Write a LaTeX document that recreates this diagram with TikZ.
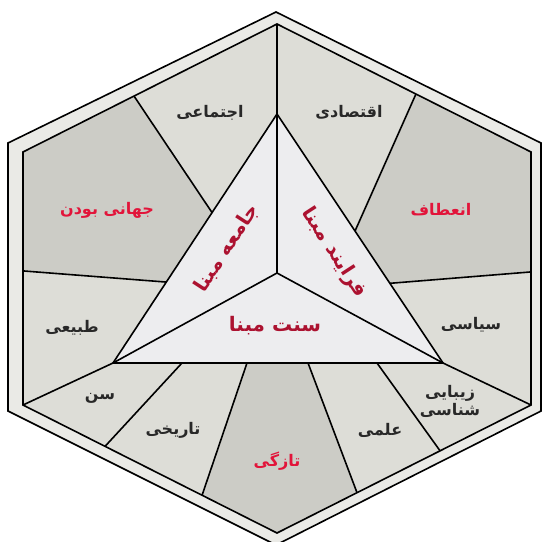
\documentclass[tikz,border=0pt]{standalone}
\usepackage{fontspec}
\newfontfamily\fafont[Script=Arabic]{DejaVu Sans}
\TeXXeTstate=1
\usepackage{xcolor}
\definecolor{hexband}{RGB}{234,234,230}
\definecolor{hexlight}{RGB}{221,221,215}
\definecolor{hexdark}{RGB}{204,204,198}
\definecolor{trifill}{RGB}{237,237,239}
\definecolor{lblink}{RGB}{40,40,40}
\definecolor{lblred}{RGB}{226,20,58}
\definecolor{trired}{RGB}{172,18,48}
\usetikzlibrary{calc}
\tikzset{
  edgeline/.style={draw=black, line width=1.6pt},
  lbl/.style={font=\fafont\bfseries\fontsize{16}{18}\selectfont, text=lblink, align=center},
  lblhot/.style={lbl, text=lblred},
  lbltri/.style={font=\fafont\bfseries\fontsize{20}{22}\selectfont, text=trired},
}

\begin{document}
\begin{tikzpicture}[x=1pt,y=-1pt]
      \useasboundingbox (0,0) rectangle (543,541);
      % outer hexagon (band)
      \draw[edgeline, fill=hexband] (276,12) -- (541,143) -- (541,411) -- (276,545) -- (8,411) -- (8,143) -- cycle;
      % inner hexagon corners
      \coordinate (hT) at (277,24);
      \coordinate (hUR) at (531,152);
      \coordinate (hLR) at (531,405);
      \coordinate (hB) at (277,533);
      \coordinate (hLL) at (23,405);
      \coordinate (hUL) at (23,152);
      \fill[hexlight] (hT) -- (hUR) -- (hLR) -- (hB) -- (hLL) -- (hUL) -- cycle;
      % triangle corners and centre
      \coordinate (tT) at (277,114);
      \coordinate (tL) at (113,363);
      \coordinate (tR) at (443,363);
      \coordinate (cen) at (277,273);
      % points on the triangle
      \coordinate (a1) at ($(tL)!0.604!(tT)$);
      \coordinate (a2) at ($(tL)!0.325!(tT)$);
      \coordinate (b1) at ($(tL)!0.209!(tR)$);
      \coordinate (b2) at ($(tL)!0.406!(tR)$);
      \coordinate (b3) at ($(tL)!0.591!(tR)$);
      \coordinate (b4) at ($(tL)!0.800!(tR)$);
      \coordinate (c1) at ($(tT)!0.47!(tR)$);
      \coordinate (c2) at ($(tT)!0.68!(tR)$);
      % points on the hexagon
      \coordinate (h1) at ($(hUL)!0.437!(hT)$);
      \coordinate (h2) at ($(hUL)!0.47!(hLL)$);
      \coordinate (h3) at ($(hLL)!0.323!(hB)$);
      \coordinate (h4) at ($(hLL)!0.705!(hB)$);
      \coordinate (h5) at ($(hB)!0.315!(hLR)$);
      \coordinate (h6) at ($(hB)!0.642!(hLR)$);
      \coordinate (h7) at ($(hLR)!0.526!(hUR)$);
      \coordinate (h8) at ($(hUR)!0.453!(hT)$);
      % darker sectors
      \fill[hexdark] (h1) -- (hUL) -- (h2) -- (a2) -- (a1) -- cycle;
      \fill[hexdark] (h4) -- (hB) -- (h5) -- (b3) -- (b2) -- cycle;
      \fill[hexdark] (h7) -- (hUR) -- (h8) -- (c1) -- (c2) -- cycle;
      % triangle
      \draw[edgeline, fill=trifill] (tT) -- (tR) -- (tL) -- cycle;
      \draw[edgeline] (cen) -- (tT) (cen) -- (tL) (cen) -- (tR);
      % dividers
      \draw[edgeline] (tT) -- (hT) (a1) -- (h1) (a2) -- (h2) (tL) -- (hLL)
        (b1) -- (h3) (b2) -- (h4) (b3) -- (h5) (b4) -- (h6)
        (tR) -- (hLR) (c2) -- (h7) (c1) -- (h8);
      \draw[edgeline] (hT) -- (hUR) -- (hLR) -- (hB) -- (hLL) -- (hUL) -- cycle;
      % labels
      \node[lbl] (ejtemai) at (210,113) {\beginR اجتماعی\endR};
      \node[lbl] (eqtesadi) at (349,112) {\beginR اقتصادی\endR};
      \node[lblhot] (jahani) at (107,210) {\beginR جهانی بودن\endR};
      \node[lblhot] (enateaf) at (441,210) {\beginR انعطاف\endR};
      \node[lbl] (tabiei) at (72,328) {\beginR طبیعی\endR};
      \node[lbl] (siasi) at (471,325) {\beginR سیاسی\endR};
      \node[lbl] (sen) at (100,398) {\beginR سن\endR};
      \node[lbl] (tarikhi) at (173,430) {\beginR تاریخی\endR};
      \node[lblhot] (tazegi) at (277,461) {\beginR تازگی\endR};
      \node[lbl] (elmi) at (380,430) {\beginR علمی\endR};
      \node[lbl] (zibai) at (450,401) {\beginR زیبایی\endR\\\beginR شناسی\endR};
      % triangle labels
      \node[lbltri] (sonnat) at (275,326) {\beginR سنت مبنا\endR};
      \node[lbltri, rotate=57] (jameeh) at (227,248) {\beginR جامعه مبنا\endR};
      \node[lbltri, rotate=-57] (farayand) at (334,253) {\beginR فرایند مبنا\endR};
\end{tikzpicture}
\end{document}
